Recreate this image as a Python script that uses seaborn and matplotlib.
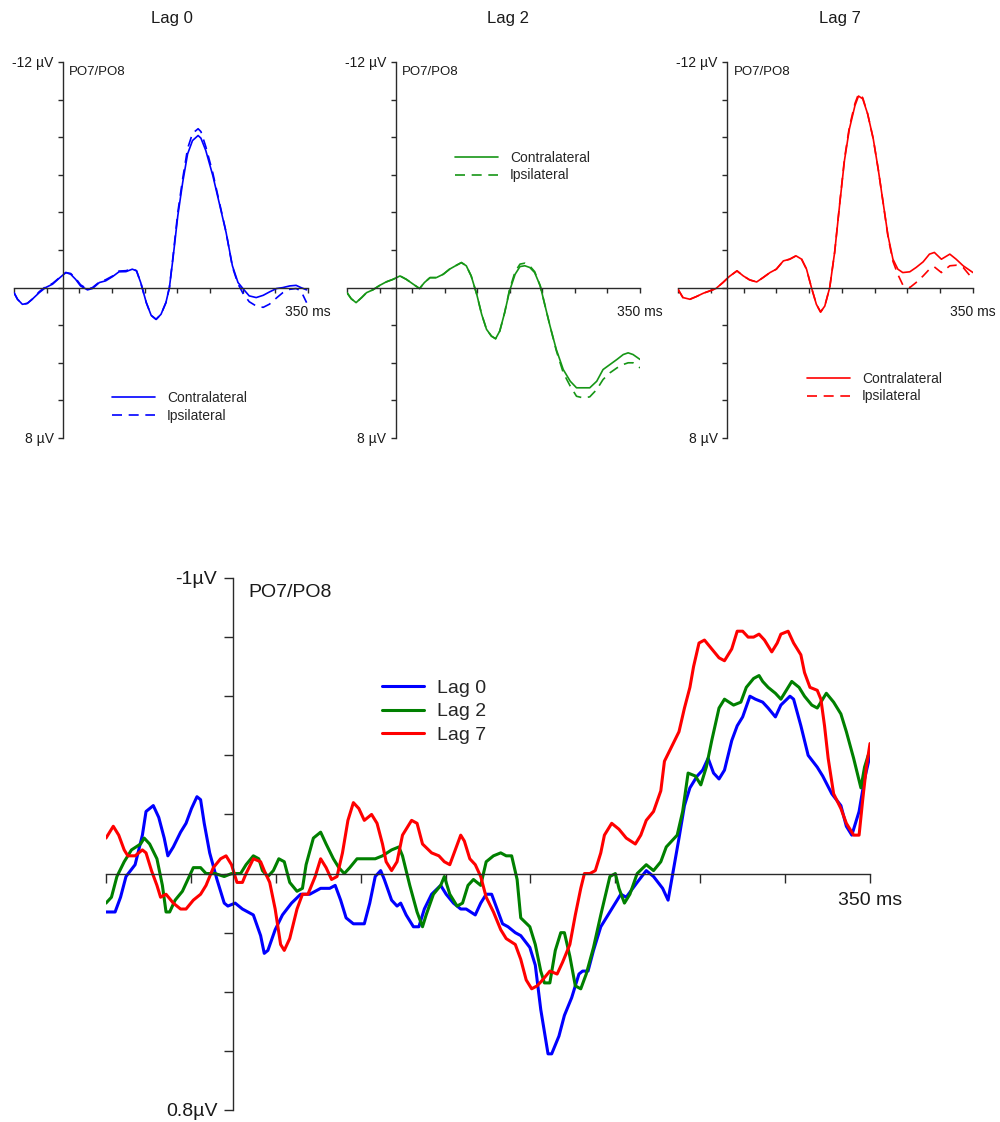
import numpy as np
import pandas as pd
import matplotlib
matplotlib.use("Agg")
import matplotlib.pyplot as plt
from matplotlib import font_manager
import seaborn as sns

# ---------------- data (ms, µV) ----------------
# top row: Lag 0
t_top0 = [-70, -65, -58, -51, -44, -34, -25, -15, -6, 4,
          11, 18, 25, 35, 42, 52, 61, 71, 80, 90,
          99, 105, 111, 119, 126, 133, 140, 147, 152, 157,
          164, 171, 178, 185, 193, 197, 204, 214, 223, 233,
          242, 250, 257, 266, 276, 286, 295, 305, 314, 324,
          333, 340, 348]
contra0 = [0.27, 0.62, 0.89, 0.84, 0.62, 0.27, 0.00, -0.18, -0.48, -0.80,
           -0.71, -0.44, -0.09, 0.12, 0.05, -0.27, -0.36, -0.59, -0.84, -0.85,
           -0.98, -0.89, -0.27, 0.80, 1.48, 1.69, 1.42, 0.80, 0.00, -1.51,
           -3.82, -5.60, -7.11, -7.82, -8.09, -7.95, -7.29, -5.96, -4.53, -2.93,
           -1.16, -0.27, 0.05, 0.44, 0.53, 0.41, 0.23, 0.05, 0.00, -0.09,
           -0.12, 0.00, 0.12]
ipsi0 = [0.27, 0.62, 0.89, 0.84, 0.62, 0.22, -0.05, -0.22, -0.50, -0.80,
         -0.75, -0.50, -0.15, 0.08, 0.00, -0.30, -0.42, -0.62, -0.88, -0.90,
         -1.00, -0.90, -0.27, 0.80, 1.48, 1.69, 1.42, 0.80, 0.00, -1.60,
         -4.00, -5.80, -7.40, -8.20, -8.45, -8.30, -7.50, -6.10, -4.60, -2.95,
         -1.10, -0.20, 0.30, 0.75, 0.98, 1.05, 0.88, 0.55, 0.27, 0.09,
         0.05, 0.18, 0.80]

# top row: Lag 2
t_top2 = [-70, -64, -57, -49, -42, -33, -23, -14, -4, 6,
          15, 25, 34, 41, 49, 58, 68, 77, 87, 94,
          101, 108, 116, 123, 130, 137, 143, 149, 156, 163,
          171, 178, 185, 192, 199, 207, 214, 221, 230, 240,
          250, 259, 269, 278, 288, 297, 307, 317, 326, 333,
          340, 350]
contra2 = [0.27, 0.59, 0.80, 0.53, 0.27, 0.12, -0.12, -0.30, -0.44, -0.62,
           -0.44, -0.18, 0.05, -0.27, -0.53, -0.53, -0.71, -0.98, -1.19, -1.33,
           -1.16, -0.62, 0.36, 1.42, 2.22, 2.58, 2.72, 2.31, 1.33, 0.18,
           -0.71, -1.12, -1.16, -1.07, -0.80, -0.09, 0.98, 2.04, 3.29, 4.36,
           4.98, 5.33, 5.33, 5.33, 4.98, 4.36, 4.09, 3.82, 3.56, 3.47,
           3.56, 3.82]
ipsi2 = [0.27, 0.59, 0.80, 0.53, 0.27, 0.12, -0.12, -0.30, -0.44, -0.62,
         -0.44, -0.18, 0.05, -0.27, -0.53, -0.53, -0.71, -0.98, -1.19, -1.33,
         -1.16, -0.62, 0.36, 1.42, 2.22, 2.58, 2.72, 2.31, 1.33, 0.10,
         -0.85, -1.25, -1.30, -1.15, -0.85, -0.09, 0.98, 2.04, 3.35, 4.53,
         5.24, 5.78, 5.87, 5.81, 5.42, 4.89, 4.53, 4.27, 4.09, 4.00,
         4.00, 4.27]

# top row: Lag 7
t_top7 = [-70, -63, -53, -44, -34, -25, -16, -6, 3, 14,
          23, 32, 42, 51, 61, 70, 80, 89, 98, 106,
          113, 120, 127, 133, 139, 146, 153, 160, 167, 174,
          182, 187, 193, 200, 208, 215, 222, 229, 236, 243,
          250, 260, 269, 279, 288, 295, 305, 317, 326, 336,
          350]
contra7 = [0.09, 0.53, 0.62, 0.48, 0.30, 0.18, 0.05, -0.27, -0.59, -0.89,
           -0.62, -0.41, -0.30, -0.53, -0.80, -0.98, -1.42, -1.51, -1.69, -1.51,
           -0.98, 0.00, 0.89, 1.30, 0.98, 0.00, -1.87, -4.36, -6.76, -8.44,
           -9.69, -10.19, -10.04, -9.24, -7.91, -6.31, -4.53, -2.76, -1.51, -0.98,
           -0.80, -0.84, -1.07, -1.37, -1.78, -1.87, -1.51, -1.78, -1.51, -1.16,
           -0.80]
ipsi7 = [0.09, 0.53, 0.62, 0.48, 0.30, 0.18, 0.05, -0.27, -0.59, -0.89,
         -0.62, -0.41, -0.30, -0.53, -0.80, -0.98, -1.42, -1.51, -1.69, -1.51,
         -0.98, 0.00, 0.89, 1.30, 0.98, 0.00, -1.87, -4.40, -6.85, -8.55,
         -9.80, -10.30, -10.10, -9.24, -7.91, -6.31, -4.53, -2.70, -1.40, -0.70,
         -0.15, 0.00, -0.27, -0.62, -0.98, -1.10, -0.80, -1.16, -1.19, -1.07,
         -0.44]

# bottom: difference waves
t_lag0 = [-70, -65, -62, -59, -54, -50, -48, -44, -41, -38,
          -36, -33, -29, -26, -23, -20, -18, -16, -13, -9,
          -5, -3, 1, 5, 11, 15, 17, 19, 23, 27,
          32, 37, 42, 48, 53, 56, 59, 62, 66, 72,
          75, 78, 81, 83, 87, 90, 92, 95, 99, 102,
          105, 109, 114, 117, 121, 125, 128, 133, 136, 139,
          142, 145, 148, 151, 155, 158, 163, 166, 169, 173,
          175, 179, 182, 186, 190, 192, 195, 198, 202, 207,
          213, 216, 222, 227, 231, 236, 239, 241, 245, 248,
          251, 255, 258, 261, 264, 267, 270, 274, 277, 280,
          284, 287, 291, 294, 298, 301, 306, 308, 312, 316,
          321, 324, 329, 334, 337, 340, 344, 347, 350]
v_lag0 = [0.13, 0.13, 0.08, 0.01, -0.03, -0.13, -0.21, -0.23, -0.19, -0.12,
          -0.06, -0.09, -0.14, -0.17, -0.22, -0.26, -0.25, -0.17, -0.07, 0.02,
          0.10, 0.11, 0.10, 0.12, 0.14, 0.21, 0.27, 0.26, 0.19, 0.14,
          0.10, 0.07, 0.07, 0.05, 0.05, 0.04, 0.09, 0.15, 0.17, 0.17,
          0.10, 0.01, -0.01, 0.02, 0.09, 0.11, 0.10, 0.14, 0.18, 0.18,
          0.12, 0.07, 0.04, 0.07, 0.10, 0.12, 0.12, 0.14, 0.10, 0.07,
          0.07, 0.12, 0.17, 0.18, 0.20, 0.21, 0.25, 0.31, 0.46, 0.61,
          0.61, 0.55, 0.48, 0.42, 0.34, 0.33, 0.33, 0.26, 0.18, 0.13,
          0.07, 0.08, 0.03, -0.01, 0.01, 0.05, 0.09, 0.02, -0.12, -0.23,
          -0.29, -0.33, -0.35, -0.39, -0.34, -0.32, -0.35, -0.45, -0.50, -0.53,
          -0.60, -0.59, -0.58, -0.56, -0.53, -0.57, -0.60, -0.59, -0.50, -0.40,
          -0.36, -0.33, -0.27, -0.23, -0.16, -0.13, -0.21, -0.32, -0.40]

t_lag2 = [-70, -67, -64, -60, -56, -51, -49, -46, -42, -39,
          -37, -35, -32, -28, -25, -22, -18, -15, -10, -5,
          -1, 4, 7, 11, 14, 16, 19, 22, 25, 28,
          31, 35, 38, 40, 44, 48, 51, 55, 58, 61,
          64, 68, 73, 78, 82, 87, 91, 93, 97, 101,
          104, 106, 110, 114, 116, 119, 123, 126, 129, 132,
          136, 139, 143, 147, 150, 153, 156, 158, 163, 166,
          169, 171, 174, 177, 180, 182, 185, 188, 191, 194,
          198, 202, 207, 210, 212, 215, 218, 222, 227, 231,
          235, 238, 244, 247, 250, 254, 257, 260, 263, 267,
          270, 275, 279, 282, 286, 289, 291, 294, 298, 301,
          304, 307, 311, 314, 318, 321, 323, 326, 330, 334,
          337, 341, 345, 347, 349]
v_lag2 = [0.10, 0.08, 0.01, -0.04, -0.08, -0.10, -0.12, -0.10, -0.05, 0.04,
          0.13, 0.13, 0.09, 0.06, 0.02, -0.02, -0.02, 0.00, 0.00, 0.01,
          0.00, 0.00, -0.03, -0.06, -0.05, -0.01, 0.01, -0.01, -0.05, -0.04,
          0.03, 0.06, 0.05, -0.03, -0.12, -0.14, -0.10, -0.05, -0.02, 0.00,
          -0.02, -0.05, -0.05, -0.05, -0.06, -0.08, -0.09, -0.06, 0.04, 0.13,
          0.18, 0.14, 0.07, 0.04, 0.01, 0.07, 0.11, 0.10, 0.04, 0.02,
          0.04, -0.04, -0.06, -0.07, -0.06, -0.06, 0.02, 0.15, 0.18, 0.24,
          0.33, 0.37, 0.37, 0.26, 0.20, 0.20, 0.28, 0.38, 0.39, 0.34,
          0.25, 0.14, 0.01, 0.00, 0.05, 0.10, 0.07, 0.00, -0.03, -0.01,
          -0.04, -0.09, -0.13, -0.21, -0.34, -0.33, -0.30, -0.36, -0.45, -0.56,
          -0.59, -0.57, -0.58, -0.63, -0.66, -0.67, -0.65, -0.63, -0.61, -0.59,
          -0.62, -0.65, -0.63, -0.60, -0.57, -0.56, -0.58, -0.61, -0.58, -0.54,
          -0.48, -0.39, -0.29, -0.36, -0.40]

t_lag7 = [-70, -66, -63, -60, -58, -54, -50, -48, -45, -42,
          -40, -37, -33, -29, -26, -22, -18, -15, -11, -7,
          -4, -1, 2, 5, 7, 11, 15, 17, 20, 23,
          26, 28, 31, 35, 38, 41, 45, 48, 51, 54,
          57, 60, 63, 66, 69, 72, 76, 79, 82, 84,
          87, 90, 93, 98, 101, 104, 109, 113, 116, 119,
          122, 125, 127, 130, 133, 136, 139, 143, 147, 150,
          155, 158, 161, 164, 167, 170, 174, 178, 181, 185,
          188, 191, 193, 196, 199, 202, 204, 208, 212, 216,
          221, 224, 227, 231, 235, 237, 241, 245, 248, 251,
          253, 256, 259, 263, 267, 270, 274, 277, 280, 283,
          286, 289, 292, 296, 299, 301, 305, 308, 312, 314,
          317, 321, 323, 325, 327, 330, 334, 337, 341, 344,
          346, 348, 350]
v_lag7 = [-0.12, -0.16, -0.13, -0.08, -0.06, -0.06, -0.08, -0.07, -0.01, 0.04,
          0.08, 0.07, 0.10, 0.12, 0.12, 0.09, 0.07, 0.04, -0.02, -0.05,
          -0.06, -0.03, 0.03, 0.03, 0.00, -0.05, -0.04, -0.01, 0.03, 0.12,
          0.24, 0.26, 0.22, 0.12, 0.07, 0.07, 0.01, -0.05, -0.02, 0.02,
          0.01, -0.07, -0.18, -0.24, -0.22, -0.18, -0.20, -0.17, -0.10, -0.04,
          -0.01, -0.04, -0.13, -0.18, -0.17, -0.10, -0.07, -0.06, -0.04, -0.03,
          -0.08, -0.13, -0.11, -0.05, -0.03, 0.01, 0.08, 0.13, 0.19, 0.22,
          0.24, 0.29, 0.36, 0.39, 0.38, 0.36, 0.33, 0.34, 0.30, 0.24,
          0.14, 0.05, 0.00, 0.00, -0.01, -0.07, -0.13, -0.17, -0.15, -0.12,
          -0.10, -0.13, -0.18, -0.21, -0.28, -0.38, -0.43, -0.48, -0.56, -0.63,
          -0.70, -0.78, -0.79, -0.76, -0.73, -0.72, -0.76, -0.82, -0.82, -0.80,
          -0.80, -0.81, -0.79, -0.75, -0.78, -0.81, -0.82, -0.78, -0.74, -0.68,
          -0.63, -0.62, -0.59, -0.50, -0.39, -0.27, -0.22, -0.17, -0.13, -0.13,
          -0.25, -0.36, -0.44]

panel_titles = ["Lag 0", "Lag 2", "Lag 7"]
side_labels = ["Contralateral", "Ipsilateral"]
channel = "PO7/PO8"

# ---------------- styling ----------------
sns.set_style("ticks")
plt.rcParams["font.family"] = ["Liberation Sans", "DejaVu Sans"]
avail = {f.name for f in font_manager.fontManager.ttflist}
narrow = "Liberation Sans Narrow" in avail
title_family = ["Liberation Sans Narrow", "Liberation Sans"] if narrow else ["Liberation Sans", "DejaVu Sans"]
title_size = 13.5 if narrow else 12

AX_COL = "#2a2a2a"
W, H = 1000, 1122
fig = plt.figure(figsize=(W / 100, H / 100), dpi=100)


def px_rect(x0, y0, x1, y1):
    return [x0 / W, 1 - y1 / H, (x1 - x0) / W, (y1 - y0) / H]


def style_axes(ax, ylim, yticks, ylabels, fs, ticklen, xpad, ypad):
    ax.set_xlim(-70, 350)
    ax.set_ylim(*ylim)
    for s in ("top", "right"):
        ax.spines[s].set_visible(False)
    ax.spines["left"].set_position(("data", 0))
    ax.spines["bottom"].set_position(("data", 0))
    for s in ("left", "bottom"):
        ax.spines[s].set_color(AX_COL)
        ax.spines[s].set_linewidth(1.0)
    xt = np.linspace(-70, 350, 10)
    ax.set_xticks(xt)
    ax.set_xticklabels([""] * 9 + ["350 ms"])
    ax.set_yticks(yticks)
    ax.set_yticklabels(ylabels)
    ax.tick_params(axis="both", direction="out", length=ticklen, width=1.0,
                   color=AX_COL, labelcolor="#1a1a1a", labelsize=fs)
    ax.tick_params(axis="x", pad=xpad)
    ax.tick_params(axis="y", pad=ypad)
    ax.set_xlabel("")
    ax.set_ylabel("")
    ax.set_facecolor("none")


# legend anchors (figure fractions) tuned to reference positions
top_specs = [
    (panel_titles[0], t_top0, contra0, ipsi0, "#0000ff", (14, 62, 308, 438), 172, (0.0994, 0.6625)),
    (panel_titles[1], t_top2, contra2, ipsi2, "#169616", (347, 62, 640, 438), 508, (0.4424, 0.8765)),
    (panel_titles[2], t_top7, contra7, ipsi7, "#ff0000", (678, 62, 973, 438), 840, (0.7944, 0.6795)),
]

top_yticks = np.arange(-12, 9, 2)
top_ylabels = ["-12 µV"] + [""] * 9 + ["8 µV"]

for title, tt, cc, ii, col, rect, tx, leg_xy in top_specs:
    ax = fig.add_axes(px_rect(*rect))
    df = pd.DataFrame({
        "t": list(tt) + list(tt),
        "v": list(cc) + list(ii),
        "Side": [side_labels[0]] * len(tt) + [side_labels[1]] * len(tt),
    })
    sns.lineplot(data=df, x="t", y="v", hue="Side", style="Side",
                 palette={side_labels[0]: col, side_labels[1]: col},
                 dashes={side_labels[0]: "", side_labels[1]: (6, 4)},
                 linewidth=1.2, estimator=None, ax=ax)
    style_axes(ax, (8, -12), top_yticks, top_ylabels, 10, 3.8, 9, 3)
    ax.text(9, -11.45, channel, fontsize=9.5, va="center", ha="left", color="#1a1a1a")
    sns.move_legend(ax, "upper left", bbox_to_anchor=leg_xy, bbox_transform=fig.transFigure,
                    frameon=False, title=None, fontsize=10, handlelength=3.1,
                    handletextpad=0.86, labelspacing=0.24)
    for h in ax.get_legend().get_lines():
        h.set_linewidth(1.2)
    fig.text(tx / W, 1 - 18 / H, title, ha="center", va="center",
             fontsize=title_size, family=title_family, color="#1a1a1a")

# bottom panel
axb = fig.add_axes(px_rect(106, 578, 870, 1110))
dfb = pd.DataFrame({
    "t": t_lag0 + t_lag2 + t_lag7,
    "v": v_lag0 + v_lag2 + v_lag7,
    "Lag": [panel_titles[0]] * len(t_lag0) + [panel_titles[1]] * len(t_lag2) + [panel_titles[2]] * len(t_lag7),
})
sns.lineplot(data=dfb, x="t", y="v", hue="Lag",
             palette={"Lag 0": "#0000ff", "Lag 2": "#008000", "Lag 7": "#ff0000"},
             linewidth=2.2, estimator=None, ax=axb)
bot_yticks = np.round(np.arange(-1.0, 0.81, 0.2), 1)
bot_ylabels = ["-1µV"] + [""] * 8 + ["0.8µV"]
style_axes(axb, (0.8, -1.0), bot_yticks, bot_ylabels, 14, 6.5, 6.5, 5)
axb.text(8, -0.95, channel, fontsize=14, va="center", ha="left", color="#1a1a1a")
sns.move_legend(axb, "upper left", bbox_to_anchor=(0.3642, 0.4105), bbox_transform=fig.transFigure,
                frameon=False, title=None, fontsize=14, handlelength=2.2,
                handletextpad=0.62, labelspacing=0.32)
for h in axb.get_legend().get_lines():
    h.set_linewidth(2.2)

fig.savefig("out.png", dpi=100, facecolor="white")
